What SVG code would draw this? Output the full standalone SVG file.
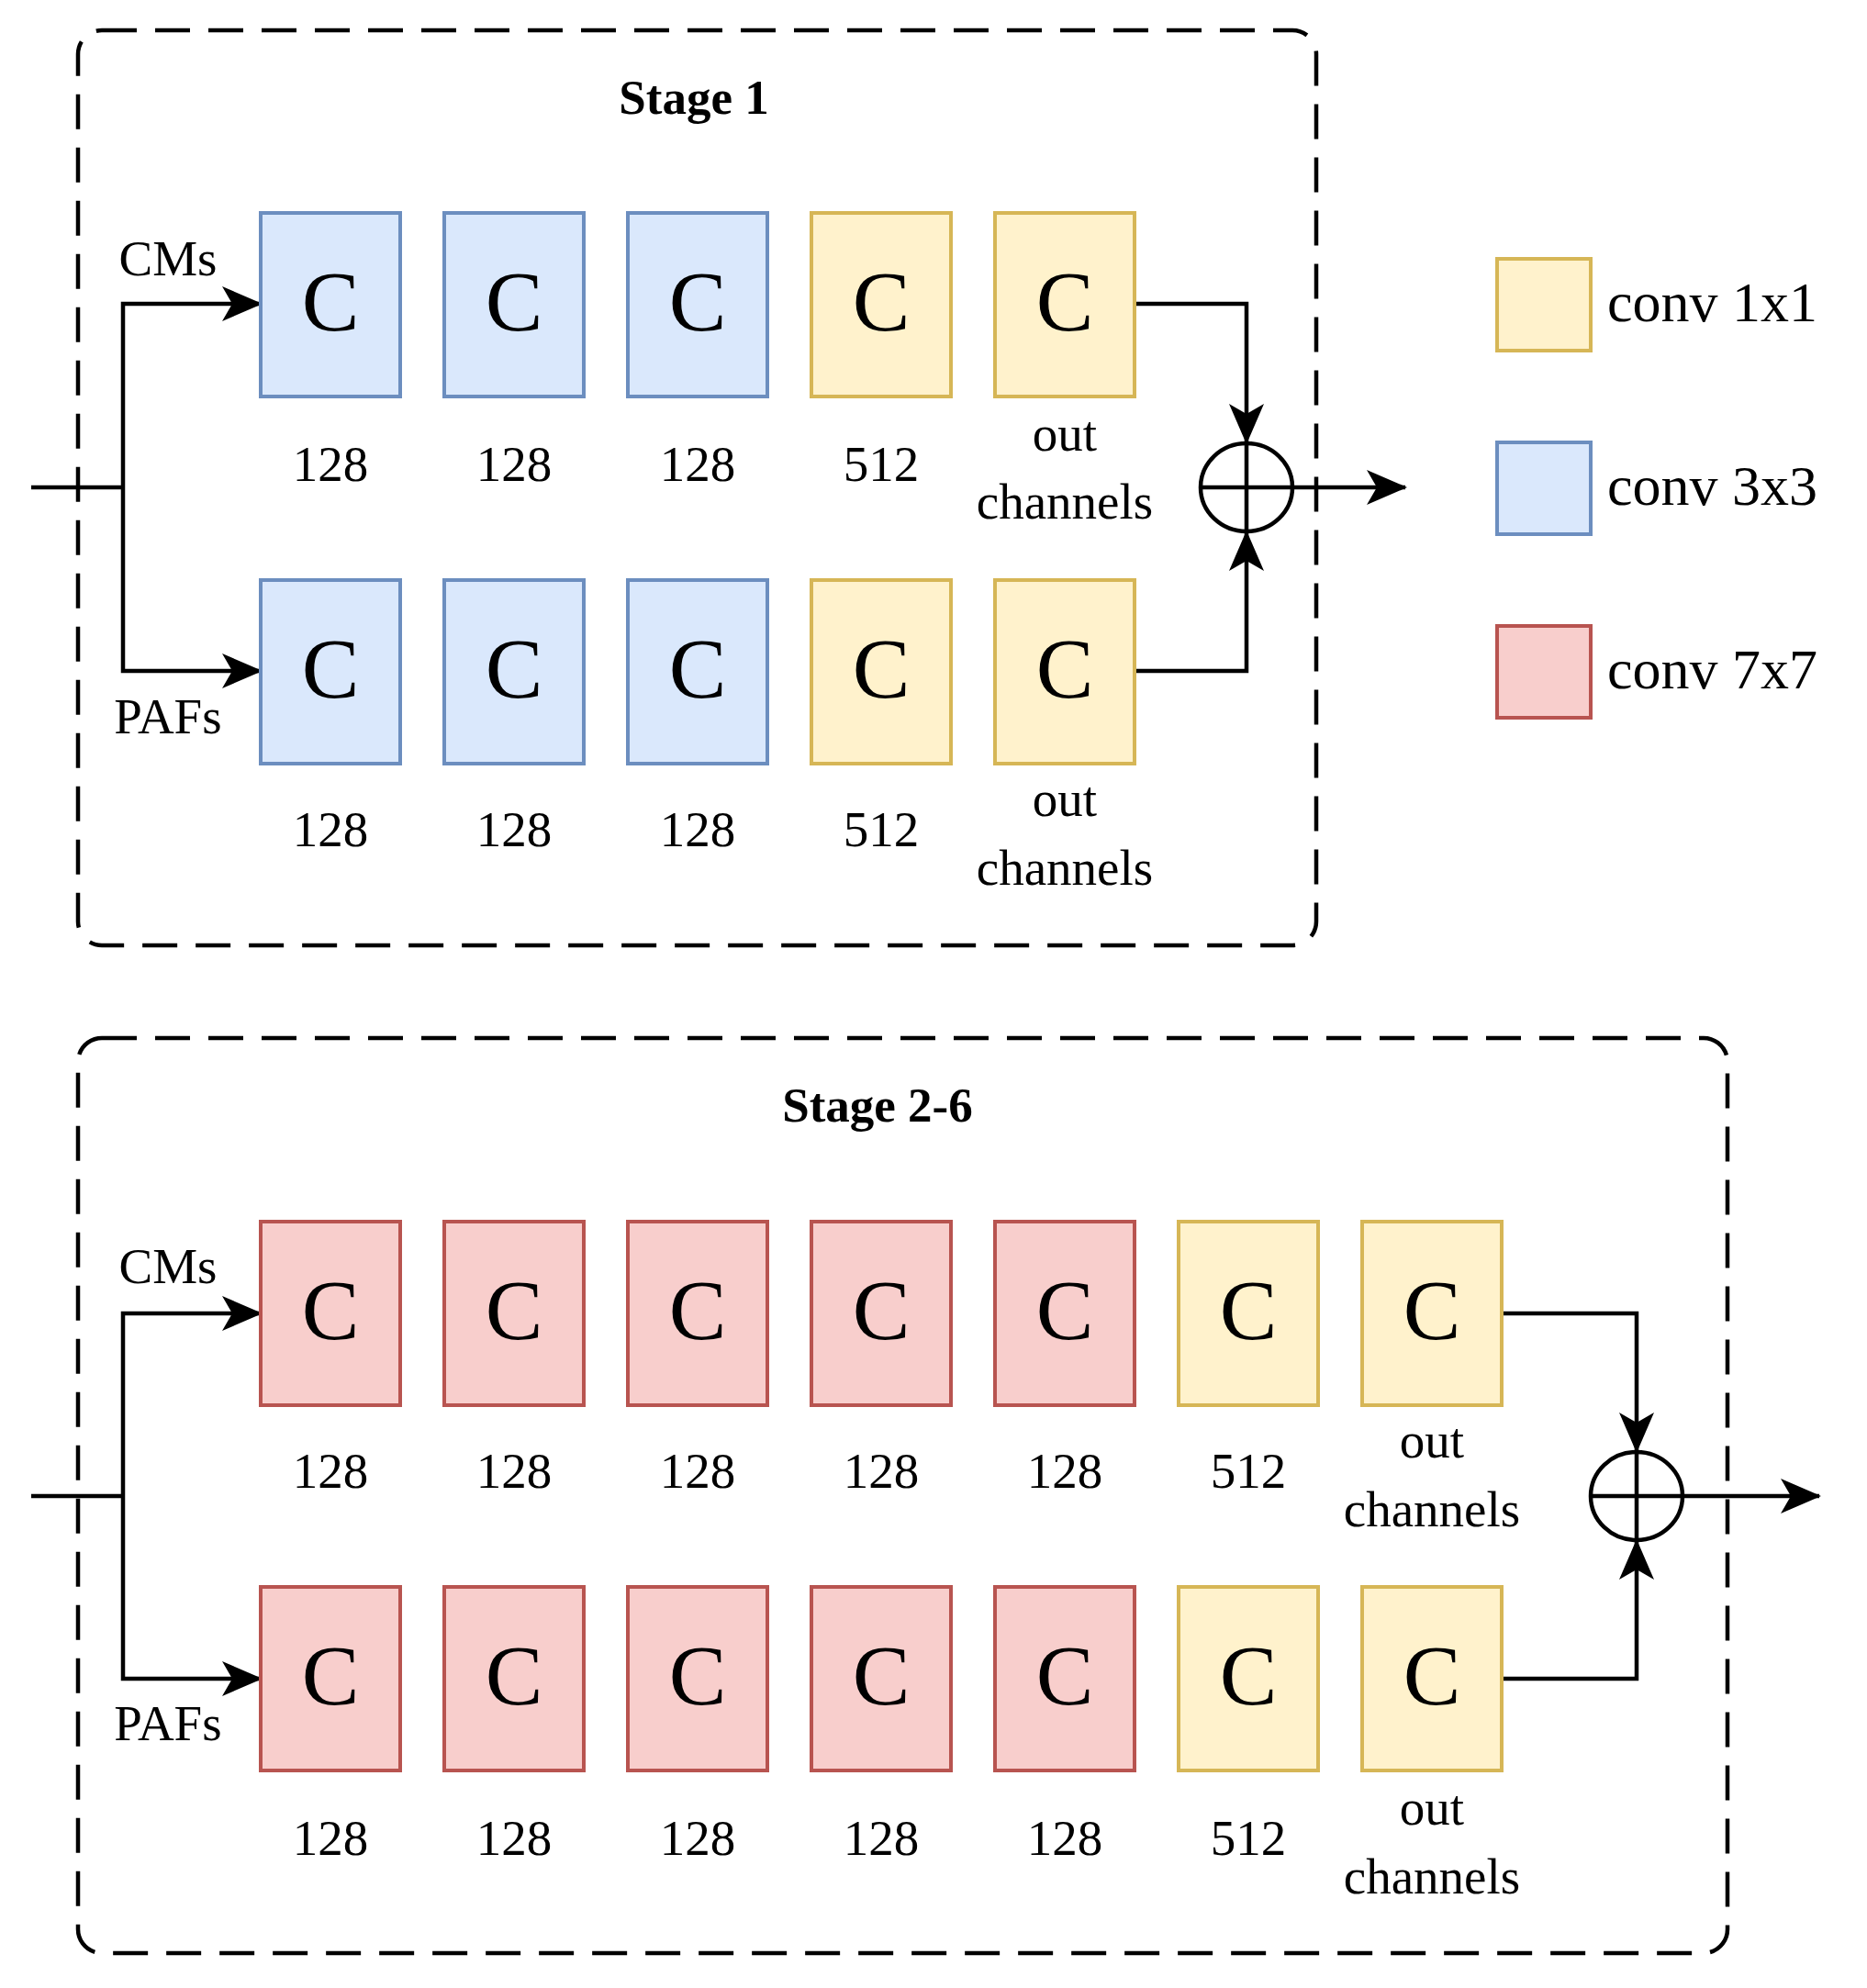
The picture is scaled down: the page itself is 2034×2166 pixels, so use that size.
<svg xmlns="http://www.w3.org/2000/svg" width="2034" height="2166" viewBox="0 0 2034 2166">
<defs>
<style>
text{font-family:"Liberation Serif","Times New Roman",serif;fill:#000;text-anchor:middle;dominant-baseline:central}
.b rect{fill:#dae8fc;stroke:#6c8ebf;stroke-width:4}
.y rect{fill:#fff2cc;stroke:#d6b656;stroke-width:4}
.r rect{fill:#f8cecc;stroke:#b85450;stroke-width:4}
.c{font-size:94px}
.n{font-size:55px}
.t{font-size:53px;font-weight:bold}
.lg{font-size:62px;text-anchor:start}
.frame{fill:none;stroke:#000;stroke-width:4.5;stroke-dasharray:38 20}
.ln{fill:none;stroke:#000;stroke-width:4.5}
</style>
<marker id="a" viewBox="0 0 44 38" refX="42" refY="19" markerWidth="44" markerHeight="38" markerUnits="userSpaceOnUse" orient="auto"><path d="M0,0 L44,19 L0,38 L11,19 Z" fill="#000"/></marker>
</defs>
<rect class="frame" x="85" y="33" width="1349" height="997" rx="26"/>
<rect class="frame" x="85" y="1131" width="1797" height="997" rx="26"/>
<text class="t" x="756" y="106">Stage 1</text>
<text class="t" x="956" y="1204">Stage 2-6</text>
<g id="connectors">
<path class="ln" d="M34,531 H134"/>
<path class="ln" d="M134,531 V331 H284" marker-end="url(#a)"/>
<path class="ln" d="M134,531 V731 H284" marker-end="url(#a)"/>
<path class="ln" d="M1236,331 H1358 V482" marker-end="url(#a)"/>
<path class="ln" d="M1236,731 H1358 V580" marker-end="url(#a)"/>
<path class="ln" d="M1408,531 H1531" marker-end="url(#a)"/>
<path class="ln" d="M34,1630 H134"/>
<path class="ln" d="M134,1630 V1431 H284" marker-end="url(#a)"/>
<path class="ln" d="M134,1630 V1829 H284" marker-end="url(#a)"/>
<path class="ln" d="M1636,1431 H1783 V1581" marker-end="url(#a)"/>
<path class="ln" d="M1636,1829 H1783 V1679" marker-end="url(#a)"/>
<path class="ln" d="M1833,1630 H1982" marker-end="url(#a)"/>
</g>
<g id="sum1"><ellipse class="ln" cx="1358" cy="531" rx="50" ry="48"/><path class="ln" d="M1308,531 H1408 M1358,483 V579"/></g>
<g id="sum2"><ellipse class="ln" cx="1783" cy="1630" rx="50" ry="48"/><path class="ln" d="M1733,1630 H1833 M1783,1582 V1678"/></g>
<text class="n" x="183" y="281">CMs</text>
<text class="n" x="183" y="780">PAFs</text>
<text class="n" x="183" y="1379">CMs</text>
<text class="n" x="183" y="1877">PAFs</text>
<g id="s1r1">
<g class="b"><rect x="284" y="232" width="152" height="200"/><text class="c" x="360" y="328">C</text><text class="n" x="360" y="505">128</text></g>
<g class="b"><rect x="484" y="232" width="152" height="200"/><text class="c" x="560" y="328">C</text><text class="n" x="560" y="505">128</text></g>
<g class="b"><rect x="684" y="232" width="152" height="200"/><text class="c" x="760" y="328">C</text><text class="n" x="760" y="505">128</text></g>
<g class="y"><rect x="884" y="232" width="152" height="200"/><text class="c" x="960" y="328">C</text><text class="n" x="960" y="505">512</text></g>
<g class="y"><rect x="1084" y="232" width="152" height="200"/><text class="c" x="1160" y="328">C</text><text class="n" x="1160" y="472">out</text><text class="n" x="1160" y="546">channels</text></g>
</g>
<g id="s1r2">
<g class="b"><rect x="284" y="632" width="152" height="200"/><text class="c" x="360" y="728">C</text><text class="n" x="360" y="903">128</text></g>
<g class="b"><rect x="484" y="632" width="152" height="200"/><text class="c" x="560" y="728">C</text><text class="n" x="560" y="903">128</text></g>
<g class="b"><rect x="684" y="632" width="152" height="200"/><text class="c" x="760" y="728">C</text><text class="n" x="760" y="903">128</text></g>
<g class="y"><rect x="884" y="632" width="152" height="200"/><text class="c" x="960" y="728">C</text><text class="n" x="960" y="903">512</text></g>
<g class="y"><rect x="1084" y="632" width="152" height="200"/><text class="c" x="1160" y="728">C</text><text class="n" x="1160" y="870">out</text><text class="n" x="1160" y="945">channels</text></g>
</g>
<g id="s2r1">
<g class="r"><rect x="284" y="1331" width="152" height="200"/><text class="c" x="360" y="1427">C</text><text class="n" x="360" y="1602">128</text></g>
<g class="r"><rect x="484" y="1331" width="152" height="200"/><text class="c" x="560" y="1427">C</text><text class="n" x="560" y="1602">128</text></g>
<g class="r"><rect x="684" y="1331" width="152" height="200"/><text class="c" x="760" y="1427">C</text><text class="n" x="760" y="1602">128</text></g>
<g class="r"><rect x="884" y="1331" width="152" height="200"/><text class="c" x="960" y="1427">C</text><text class="n" x="960" y="1602">128</text></g>
<g class="r"><rect x="1084" y="1331" width="152" height="200"/><text class="c" x="1160" y="1427">C</text><text class="n" x="1160" y="1602">128</text></g>
<g class="y"><rect x="1284" y="1331" width="152" height="200"/><text class="c" x="1360" y="1427">C</text><text class="n" x="1360" y="1602">512</text></g>
<g class="y"><rect x="1484" y="1331" width="152" height="200"/><text class="c" x="1560" y="1427">C</text><text class="n" x="1560" y="1569">out</text><text class="n" x="1560" y="1644">channels</text></g>
</g>
<g id="s2r2">
<g class="r"><rect x="284" y="1729" width="152" height="200"/><text class="c" x="360" y="1825">C</text><text class="n" x="360" y="2002">128</text></g>
<g class="r"><rect x="484" y="1729" width="152" height="200"/><text class="c" x="560" y="1825">C</text><text class="n" x="560" y="2002">128</text></g>
<g class="r"><rect x="684" y="1729" width="152" height="200"/><text class="c" x="760" y="1825">C</text><text class="n" x="760" y="2002">128</text></g>
<g class="r"><rect x="884" y="1729" width="152" height="200"/><text class="c" x="960" y="1825">C</text><text class="n" x="960" y="2002">128</text></g>
<g class="r"><rect x="1084" y="1729" width="152" height="200"/><text class="c" x="1160" y="1825">C</text><text class="n" x="1160" y="2002">128</text></g>
<g class="y"><rect x="1284" y="1729" width="152" height="200"/><text class="c" x="1360" y="1825">C</text><text class="n" x="1360" y="2002">512</text></g>
<g class="y"><rect x="1484" y="1729" width="152" height="200"/><text class="c" x="1560" y="1825">C</text><text class="n" x="1560" y="1969">out</text><text class="n" x="1560" y="2044">channels</text></g>
</g>
<g id="legend">
<g class="y"><rect x="1631" y="282" width="102" height="100"/></g><text class="lg" x="1751" y="329">conv 1x1</text>
<g class="b"><rect x="1631" y="482" width="102" height="100"/></g><text class="lg" x="1751" y="529">conv 3x3</text>
<g class="r"><rect x="1631" y="682" width="102" height="100"/></g><text class="lg" x="1751" y="729">conv 7x7</text>
</g>
</svg>
